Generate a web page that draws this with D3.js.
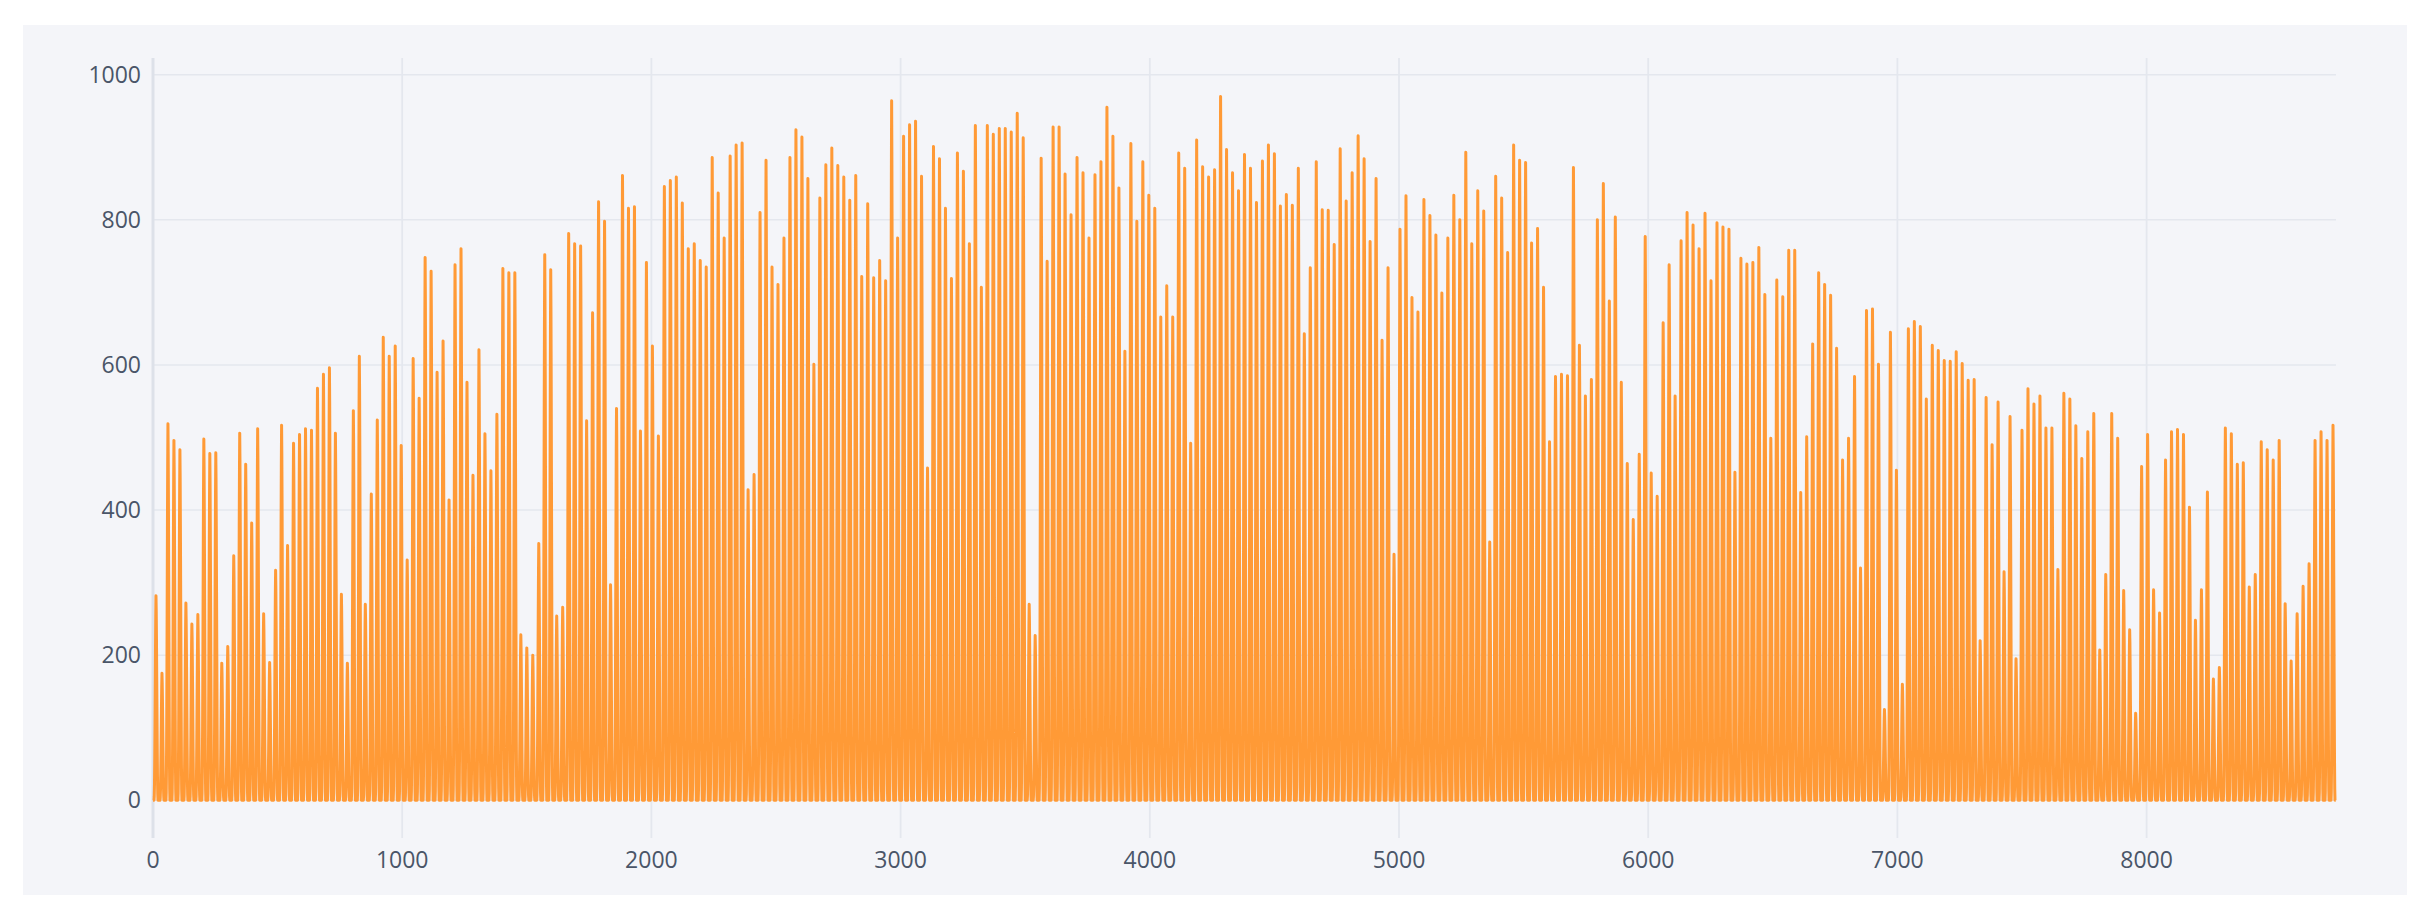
<!DOCTYPE html>
<html>
<head>
<meta charset="utf-8">
<script src="https://cdn.jsdelivr.net/npm/d3@7"></script>
<style>
  body { margin: 0; background: #fff; }
  svg text { font-family: "Open Sans", sans-serif; }
</style>
</head>
<body>
<svg id="chart" width="2426" height="919"></svg>
<script>
// daily peak output, one spike per day
const dailyPeak = [
  282,175,519,496,483,272,243,256,498,478,479,189,212,337,506,463,382,512,257,190,
  317,517,351,492,504,512,510,568,587,596,506,284,189,537,612,270,422,524,638,612,
  626,489,331,609,554,748,729,590,633,414,738,760,576,448,621,505,454,532,733,727,
  727,228,210,200,354,752,731,254,266,781,767,764,523,672,825,798,297,540,861,816,
  818,509,741,626,502,846,854,859,823,760,767,744,735,
  886,837,775,888,903,906,428,449,810,882,735,711,775,886,924,914,857,601,830,876,
  899,875,859,827,861,722,822,720,744,716,964,775,915,931,936,860,458,901,884,816,
  719,892,867,767,930,707,930,918,926,926,921,947,913,270,227,885,743,928,928,863,
  807,886,865,775,862,880,955,915,844,619,905,798,880,834,816,666,709,666,892,871,
  492,910,873,859,869,970,897,865,840,890,871,824,
  881,903,891,819,835,820,871,643,734,880,814,813,766,898,826,865,916,884,770,857,
  634,734,339,787,833,693,673,828,806,779,699,775,834,800,893,767,840,812,356,860,
  830,755,903,882,879,768,788,707,494,584,587,585,872,627,557,580,800,850,688,804,
  576,464,387,477,777,451,419,658,738,557,771,810,793,760,809,716,796,790,787,452,
  747,739,741,762,697,499,717,694,758,758,424,501,
  629,727,711,696,623,469,499,584,320,675,677,601,125,645,455,160,650,660,653,553,
  627,620,606,605,618,602,579,580,220,555,490,549,315,529,195,510,567,546,557,513,
  513,318,561,553,516,471,508,533,207,311,533,499,289,235,120,460,504,290,258,469,
  508,511,504,404,248,290,425,167,183,513,505,463,465,294,311,494,483,469,496,271,
  192,257,295,326,496,508,496,517
];
// share of the daily peak reached in each hour of the day
const hourShare = [0,0,0,0,0,0.02,0.08,0.2,0.36,0.55,0.74,0.9,1,0.92,0.78,0.6,0.42,0.25,0.11,0.03,0,0,0,0];
const xTicks = [0,1000,2000,3000,4000,5000,6000,7000,8000];
const yTicks = [0,200,400,600,800,1000];

const hours = 8760;
const series = [];
dailyPeak.forEach((p, d) => {
  hourShare.forEach((s, h) => {
    const t = d * 24 + h;
    if (t < hours) series.push([t, p * s]);
  });
});

const svg = d3.select("#chart");
const plotL = 153, plotR = 2336, plotT = 58, plotB = 838;

svg.append("rect").attr("x", 23).attr("y", 25).attr("width", 2384).attr("height", 870).attr("fill", "#f4f5f9");

const x = d3.scaleLinear().domain([0, hours]).range([plotL, plotR]);
const y = d3.scaleLinear().domain([-52, 1023]).range([plotB, plotT]);

// grid
svg.append("g").selectAll("line").data(yTicks).join("line")
  .attr("x1", plotL).attr("x2", plotR)
  .attr("y1", d => y(d)).attr("y2", d => y(d))
  .attr("stroke", "#e4e7ee").attr("stroke-width", 1.5);
svg.append("g").selectAll("line").data(xTicks).join("line")
  .attr("y1", plotT).attr("y2", plotB)
  .attr("x1", d => x(d)).attr("x2", d => x(d))
  .attr("stroke", d => d === 0 ? "#dde1e9" : "#e4e7ee")
  .attr("stroke-width", d => d === 0 ? 3 : 1.8);

svg.append("path").datum(series)
  .attr("fill", "none").attr("stroke", "#ff9a36").attr("stroke-width", 3)
  .attr("stroke-linejoin", "round")
  .attr("d", d3.line().x(d => x(d[0])).y(d => y(d[1])));

svg.append("g").selectAll("text").data(yTicks).join("text")
  .attr("x", plotL - 12).attr("y", d => y(d)).attr("dy", "0.35em")
  .attr("text-anchor", "end").attr("font-size", 23).attr("fill", "#4a5568")
  .text(d => d);
svg.append("g").selectAll("text").data(xTicks).join("text")
  .attr("x", d => x(d)).attr("y", 868)
  .attr("text-anchor", "middle").attr("font-size", 23).attr("fill", "#4a5568")
  .text(d => d);
</script>
</body>
</html>
